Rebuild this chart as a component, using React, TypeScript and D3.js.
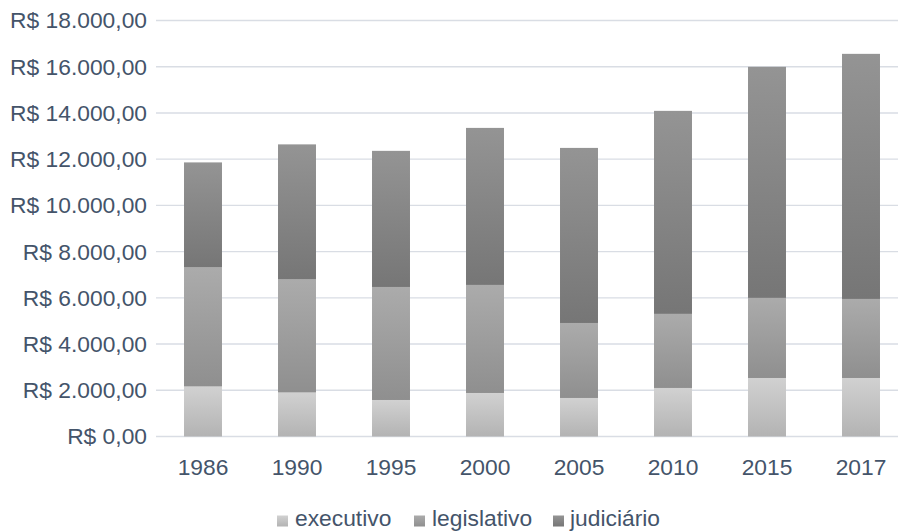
import React from "react";
import * as d3 from "d3";

const years = ["1986", "1990", "1995", "2000", "2005", "2010", "2015", "2017"];
const executivo = [2165, 1905, 1580, 1883, 1667, 2100, 2532, 2532];
const legislativo = [5150, 4890, 4890, 4675, 3245, 3205, 3465, 3420];
const judiciario = [4545, 5845, 5890, 6795, 7575, 8785, 10000, 10605];
const seriesNames = ["executivo", "legislativo", "judiciário"];
const yTicks = [0, 2000, 4000, 6000, 8000, 10000, 12000, 14000, 16000, 18000];

const W = 898;
const H = 532;
const FS = 22.8;
const textColor = "#44546a";
const gridColor = "#d9dde4";
const gradients = [
  { id: "g-exec", top: "#d1d1d1", bottom: "#b3b3b3" },
  { id: "g-leg", top: "#ababab", bottom: "#8f8f8f" },
  { id: "g-jud", top: "#949494", bottom: "#767676" },
];

const fmt = (v: number) => {
  const s = d3.format(",.2f")(v);
  return "R$ " + s.replace(/,/g, "#").replace(/\./g, ",").replace(/#/g, ".");
};

export default function App() {
  const x = d3
    .scaleBand<string>()
    .domain(years)
    .range([156, 908])
    .paddingInner(0.596)
    .paddingOuter(0.298);
  const y = d3.scaleLinear().domain([0, 18000]).range([436.5, 20.5]);

  const data = years.map((yr, i) => ({
    year: yr,
    executivo: executivo[i],
    legislativo: legislativo[i],
    judiciario: judiciario[i],
  }));
  const stack = d3.stack<any>().keys(["executivo", "legislativo", "judiciario"]);
  const series = stack(data);

  const legendItems = [
    { name: seriesNames[0], sx: 277, tx: 295 },
    { name: seriesNames[1], sx: 414, tx: 432 },
    { name: seriesNames[2], sx: 553, tx: 570 },
  ];

  return (
    <svg
      width={W}
      height={H}
      style={{ position: "absolute", left: 0, top: 0, background: "#fff" }}
      fontFamily="'Liberation Sans', Arial, sans-serif"
    >
      <defs>
        {gradients.map((g) => (
          <linearGradient key={g.id} id={g.id} x1="0" y1="0" x2="0" y2="1">
            <stop offset="0" stopColor={g.top} />
            <stop offset="1" stopColor={g.bottom} />
          </linearGradient>
        ))}
      </defs>
      {yTicks.map((t) => (
        <g key={t}>
          <line
            x1={156}
            x2={898}
            y1={y(t)}
            y2={y(t)}
            stroke={gridColor}
            strokeWidth={1.4}
          />
          <text
            x={147}
            y={y(t)}
            dy="0.35em"
            textAnchor="end"
            fontSize={FS}
            fill={textColor}
          >
            {fmt(t)}
          </text>
        </g>
      ))}
      {series.map((s, si) => (
        <g key={s.key} fill={`url(#${gradients[si].id})`}>
          {s.map((d: any, i: number) => (
            <rect
              key={i}
              x={x(years[i])}
              width={x.bandwidth()}
              y={y(d[1])}
              height={y(d[0]) - y(d[1])}
            />
          ))}
        </g>
      ))}
      {years.map((yr) => (
        <text
          key={yr}
          x={(x(yr) as number) + x.bandwidth() / 2}
          y={474.5}
          textAnchor="middle"
          fontSize={FS}
          fill={textColor}
        >
          {yr}
        </text>
      ))}
      {legendItems.map((it, i) => (
        <g key={it.name}>
          <rect
            x={it.sx}
            y={515.5}
            width={11}
            height={11}
            fill={`url(#${gradients[i].id})`}
          />
          <text x={it.tx} y={526} fontSize={FS} fill={textColor}>
            {it.name}
          </text>
        </g>
      ))}
    </svg>
  );
}
